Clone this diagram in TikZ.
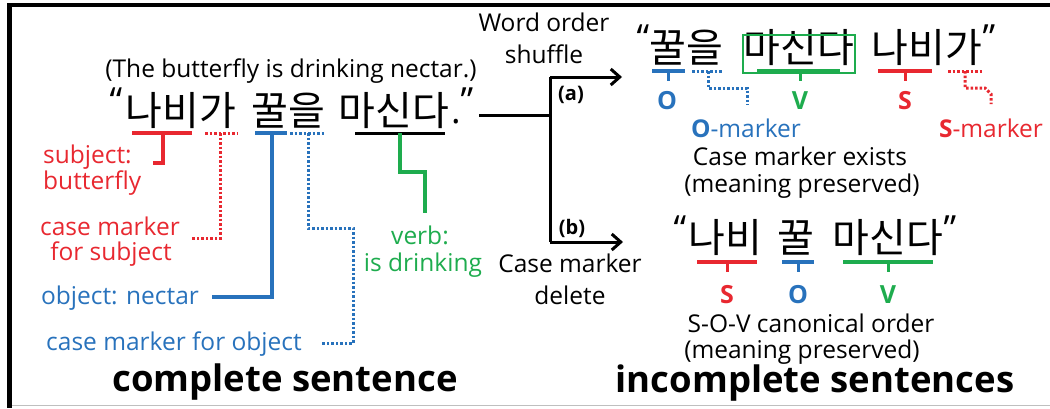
\documentclass[tikz,border=0pt]{standalone}
\usepackage{fontspec}
\setmainfont{Open Sans}
\newfontfamily\kr{Noto Sans CJK KR}
\usetikzlibrary{arrows.meta}
\definecolor{myred}{RGB}{232,40,48}
\definecolor{myblue}{RGB}{40,114,188}
\definecolor{mygreen}{RGB}{30,172,78}
\begin{document}
\begin{tikzpicture}[x=1pt,y=-1pt,
  lbl/.style={inner sep=0pt, font=\fontsize{24.5}{28}\selectfont},
  sublbl/.style={inner sep=0pt, font=\fontsize{24.5}{28}\selectfont},
  kor/.style={inner sep=0pt, font=\kr\fontsize{40}{44}\selectfont},
  qt/.style={inner sep=0pt, font=\fontsize{36}{40}\selectfont},
  letter/.style={inner sep=0pt, font=\bfseries\fontsize{25}{28}\selectfont},
  title/.style={inner sep=0pt, font=\bfseries\fontsize{36.5}{40}\selectfont},
  tag/.style={inner sep=0pt, font=\bfseries\fontsize{20}{24}\selectfont},
  uline/.style={line width=4pt},
  dotl/.style={line width=3pt, dash pattern=on 2.5pt off 2pt},
  blk/.style={line width=3pt, black},
  tip/.style={-{Straight Barb[length=9pt,width=16pt]}}
]
\useasboundingbox (0,0) rectangle (1050,408);
% frame
\fill[black] (7,2.5) rectangle (12,408);
\fill[black] (7,2.5) rectangle (1050,6.5);
\draw[gray!50, line width=1pt] (12,405) -- (1050,405);

% ---------- left: complete sentence ----------
\node[sublbl] (eng) at (291,71) {(The butterfly is drinking nectar.)};
\node[qt] (lq1) at (116,101) {“};
\node[kor] (w1) at (181,111) {나비가};
\node[kor] (w2) at (288,111) {꿀을};
\node[kor] (w3) at (394,111) {마신다};
\node[qt] (dot) at (456,122) {.};
\node[qt] (lq2) at (467,101) {”};

% subject
\draw[uline, myred] (132,133) -- (192,133);
\draw[myred, line width=3.5pt] (163,133) -- (163,163) -- (153,163);
\node[lbl, myred, anchor=west] (subj1) at (43,157) {subject:};
\node[lbl, myred, anchor=west] (subj2) at (43,183) {butterfly};
% subject marker
\draw[dotl, myred] (205,133) -- (237,133);
\draw[dotl, myred] (220,133) -- (220,238) -- (192,238);
\node[lbl, myred] (cm1) at (110,226) {case marker};
\node[lbl, myred] (cm2) at (111,254) {for subject};
% object
\draw[uline, myblue] (255,133) -- (287,133);
\draw[myblue, line width=3.5pt] (272,133) -- (272,297) -- (212,297);
\node[lbl, myblue] (obj) at (120,298) {object: nectar};
% object marker
\draw[dotl, myblue] (290,133) -- (325,133);
\draw[dotl, myblue] (308,133) -- (308,228) -- (353,228) -- (353,343) -- (322,343);
\node[lbl, myblue] (om) at (174,344) {case marker for object};
% verb
\draw[line width=3pt, black] (355,133) -- (445,133);
\draw[mygreen, line width=3.5pt] (400,133) -- (400,172) -- (425,172) -- (425,213);
\node[lbl, mygreen] (vb1) at (420,235) {verb:};
\node[lbl, mygreen] (vb2) at (423,265) {is drinking};
\node[title] (t1) at (285,382) {complete sentence};

% ---------- arrows ----------
\coordinate (br) at (550,115);
\coordinate (ta) at (550,77);
\coordinate (tb) at (550,242);
\coordinate (ea) at (622,77);
\coordinate (eb) at (623,242);
\draw[blk] (479,115) -- (br);
\draw[blk] (ta) -- (tb);
\draw[blk, tip] (ta) -- (ea);
\draw[blk, tip] (tb) -- (eb);
\node[lbl] (wo1) at (544,22) {Word order};
\node[lbl] (wo2) at (544,54) {shuffle};
\node[tag] (ta1) at (571,95) {(a)};
\node[tag] (tb1) at (572,228) {(b)};
\node[lbl] (cd1) at (570,263) {Case marker};
\node[lbl] (cd2) at (570,295) {delete};

% ---------- right top ----------
\node[qt] (rq1) at (643,38) {“};
\node[kor] (r1) at (686,48) {꿀을};
\node[kor] (r2) at (799,48) {마신다};
\node[kor] (r3) at (927,48) {나비가};
\node[qt] (rq2) at (989,38) {”};
\draw[mygreen, line width=1.5pt] (743,35) rectangle (855,73);
\draw[uline, myblue] (652,71) -- (685,71);
\draw[myblue, line width=3pt] (668,71) -- (668,81);
\draw[dotl, myblue] (692,71) -- (723,71);
\draw[dotl, myblue] (708,71) -- (708,88) -- (747,88) -- (747,105);
\draw[uline, mygreen] (757,71) -- (840,71);
\draw[mygreen, line width=3pt] (800,71) -- (800,81);
\draw[uline, myred] (878,71) -- (932,71);
\draw[myred, line width=3pt] (905,71) -- (905,81);
\draw[dotl, myred] (948,71) -- (982,71);
\draw[dotl, myred] (965,71) -- (965,88) -- (985,88) -- (991,94) -- (991,104);
\node[letter, myblue] (lo) at (667,101) {O};
\node[letter, mygreen] (lv) at (800,101) {V};
\node[letter, myred] (ls) at (905,101) {S};
\node[lbl, myblue] (omk) at (746,128) {{\bfseries O}-marker};
\node[lbl, myred] (smk) at (991,128) {{\bfseries S}-marker};
\node[lbl] (ce1) at (800,156) {Case marker exists};
\node[lbl] (ce2) at (802,186) {(meaning preserved)};

% ---------- right bottom ----------
\node[qt] (bq1) at (680,229) {“};
\node[kor] (b1) at (725,238) {나비};
\node[kor] (b2) at (796,238) {꿀};
\node[kor] (b3) at (888,238) {마신다};
\node[qt] (bq2) at (950,229) {”};
\draw[uline, myred] (697,262) -- (757,262);
\draw[myred, line width=3pt] (727,262) -- (727,272);
\draw[uline, myblue] (782,262) -- (814,262);
\draw[myblue, line width=3pt] (798,262) -- (798,272);
\draw[uline, mygreen] (843,262) -- (933,262);
\draw[mygreen, line width=3pt] (888,262) -- (888,272);
\node[letter, myred] (bs) at (727,295) {S};
\node[letter, myblue] (bo) at (798,295) {O};
\node[letter, mygreen] (bv) at (888,295) {V};
\node[lbl] (sov) at (811,323) {S-O-V canonical order};
\node[lbl] (mp2) at (802,352) {(meaning preserved)};
\node[title] (t2) at (815,383) {incomplete sentences};
\end{tikzpicture}
\end{document}
